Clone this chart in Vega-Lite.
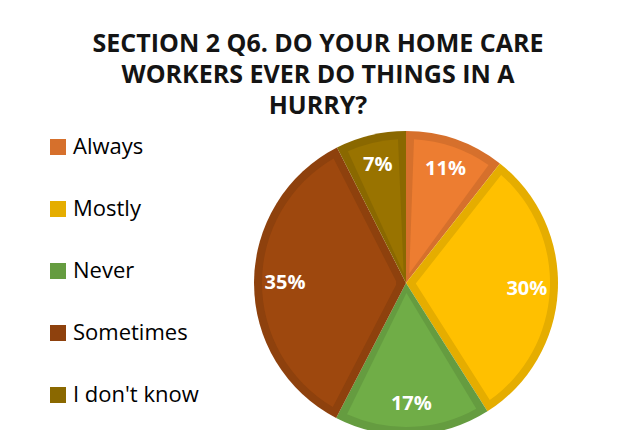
{
  "$schema": "https://vega.github.io/schema/vega-lite/v6.json",
  "autosize": "none",
  "padding": {"left": 254, "top": 131, "right": 78, "bottom": 0},
  "width": 304,
  "height": 304,
  "background": "white",
  "config": {"view": {"stroke": null}, "font": "Open Sans"},
  "title": {
    "text": ["SECTION 2 Q6. DO YOUR HOME CARE", "WORKERS EVER DO THINGS IN A", "HURRY?"],
    "font": "Open Sans",
    "fontSize": 25,
    "fontWeight": "bold",
    "color": "#141414",
    "lineHeight": 31,
    "anchor": "middle",
    "frame": "group",
    "dx": -88,
    "offset": 12
  },
  "data": {
    "values": [
      {"answer": "Always", "value": 10.6, "order": 1, "label": "11%"},
      {"answer": "Mostly", "value": 30.4, "order": 2, "label": "30%"},
      {"answer": "Never", "value": 16.6, "order": 3, "label": "17%"},
      {"answer": "Sometimes", "value": 34.9, "order": 4, "label": "35%"},
      {"answer": "I don't know", "value": 7.5, "order": 5, "label": "7%"}
    ]
  },
  "encoding": {
    "theta": {"field": "value", "type": "quantitative", "stack": true},
    "order": {"field": "order", "type": "quantitative"}
  },
  "layer": [
    {
      "mark": {"type": "arc", "outerRadius": 152, "innerRadius": 0},
      "encoding": {
        "color": {
          "field": "answer",
          "type": "nominal",
          "sort": null,
          "scale": {
            "domain": ["Always", "Mostly", "Never", "Sometimes", "I don't know"],
            "range": ["#D6702C", "#E5AD00", "#659C40", "#8E410D", "#8A6800"]
          },
          "legend": {
            "orient": "none",
            "legendX": -207,
            "legendY": 5,
            "title": null,
            "symbolType": "square",
            "symbolSize": 256,
            "symbolStrokeWidth": 0,
            "symbolOpacity": 1,
            "labelFont": "Open Sans",
            "labelFontSize": 22,
            "labelColor": "#000000",
            "labelOffset": 4,
            "rowPadding": 40,
            "padding": 0
          }
        }
      }
    },
    {
      "mark": {"type": "arc", "outerRadius": 144, "innerRadius": 10, "padAngle": 0.111},
      "encoding": {
        "color": {
          "field": "answer",
          "type": "nominal",
          "sort": null,
          "scale": {
            "domain": ["Always", "Mostly", "Never", "Sometimes", "I don't know"],
            "range": ["#ED7D31", "#FFC000", "#70AD47", "#9E480E", "#997300"]
          },
          "legend": null
        }
      }
    },
    {
      "mark": {"type": "text", "radius": 121, "font": "Open Sans", "fontSize": 20, "fontWeight": "bold", "color": "white", "baseline": "middle", "align": "center"},
      "encoding": {
        "text": {"field": "label", "type": "nominal"}
      }
    }
  ],
  "resolve": {"scale": {"color": "independent"}, "legend": {"color": "independent"}}
}
